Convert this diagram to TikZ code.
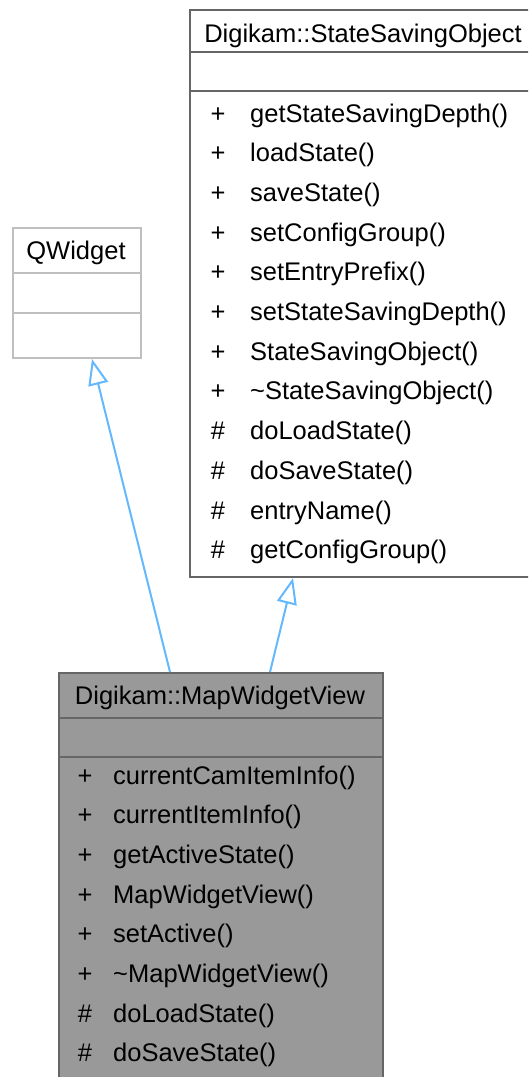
\documentclass[tikz,border=0pt]{standalone}
\usepackage{fontspec}
\setmainfont{Liberation Sans}
\usetikzlibrary{arrows.meta}
\definecolor{edgeblue}{HTML}{63B8FF}
\definecolor{darkborder}{HTML}{666666}
\definecolor{lightborder}{HTML}{BFBFBF}
\definecolor{fillgray}{HTML}{999999}
\tikzset{
  lbl/.style={font=\fontsize{25.5}{30}\selectfont, inner sep=0pt, text=black},
  umlbox/.style={draw=darkborder, line width=2pt, anchor=north west, inner sep=0pt},
  divline/.style={line width=2pt},
  edge/.style={draw=edgeblue, line width=2pt, -{Triangle[length=26pt,width=20pt,fill=white]}},
}
\begin{document}
\begin{tikzpicture}[x=1pt,y=-1pt]
\useasboundingbox (0,0) rectangle (528,1077);
\clip (0,0) rectangle (528,1077);
% boxes
\node[umlbox, fill=white, minimum width=348pt, minimum height=567pt] (sso) at (189,9) {};
\node[umlbox, draw=lightborder, fill=white, minimum width=128pt, minimum height=130pt] (qw) at (12,227) {};
\node[umlbox, fill=fillgray, minimum width=324pt, minimum height=420pt] (mwv) at (58,672) {};
% dividers
\draw[divline, darkborder] (sso.west |- 0,52) -- (sso.east |- 0,52);
\draw[divline, darkborder] (sso.west |- 0,91) -- (sso.east |- 0,91);
\draw[divline, lightborder] (qw.west |- 0,273) -- (qw.east |- 0,273);
\draw[divline, lightborder] (qw.west |- 0,313) -- (qw.east |- 0,313);
\draw[divline, darkborder] (mwv.west |- 0,718) -- (mwv.east |- 0,718);
\draw[divline, darkborder] (mwv.west |- 0,757) -- (mwv.east |- 0,757);
% titles
\node[lbl, anchor=base] (ssot) at (363,42) {Digikam::StateSavingObject};
\node[lbl, anchor=base] (qwt) at (76,259) {QWidget};
\node[lbl, anchor=base] (mwvt) at (220,704) {Digikam::MapWidgetView};
% members of StateSavingObject
\foreach \m/\t [count=\i from 0] in {+/getStateSavingDepth(), +/loadState(), +/saveState(), +/setConfigGroup(), +/setEntryPrefix(), +/setStateSavingDepth(), +/StateSavingObject(), +/\textasciitilde StateSavingObject(), \#/doLoadState(), \#/doSaveState(), \#/entryName(), \#/getConfigGroup()} {
  \node[lbl, anchor=base] (ssom\i) at (218,122+39.7*\i) {\m};
  \node[lbl, anchor=base west] (ssoa\i) at (250,122+39.7*\i) {\t};
}
% members of MapWidgetView
\foreach \m/\t [count=\i from 0] in {+/currentCamItemInfo(), +/currentItemInfo(), +/getActiveState(), +/MapWidgetView(), +/setActive(), +/\textasciitilde MapWidgetView(), \#/doLoadState(), \#/doSaveState()} {
  \node[lbl, anchor=base] (mwvm\i) at (85,784+39.7*\i) {\m};
  \node[lbl, anchor=base west] (mwva\i) at (113,784+39.7*\i) {\t};
}
% edges
\draw[edge] ([xshift=112pt]mwv.north west) -- ([xshift=80pt]qw.south west);
\draw[edge] ([xshift=212pt]mwv.north west) -- ([xshift=104pt]sso.south west);
\end{tikzpicture}
\end{document}
